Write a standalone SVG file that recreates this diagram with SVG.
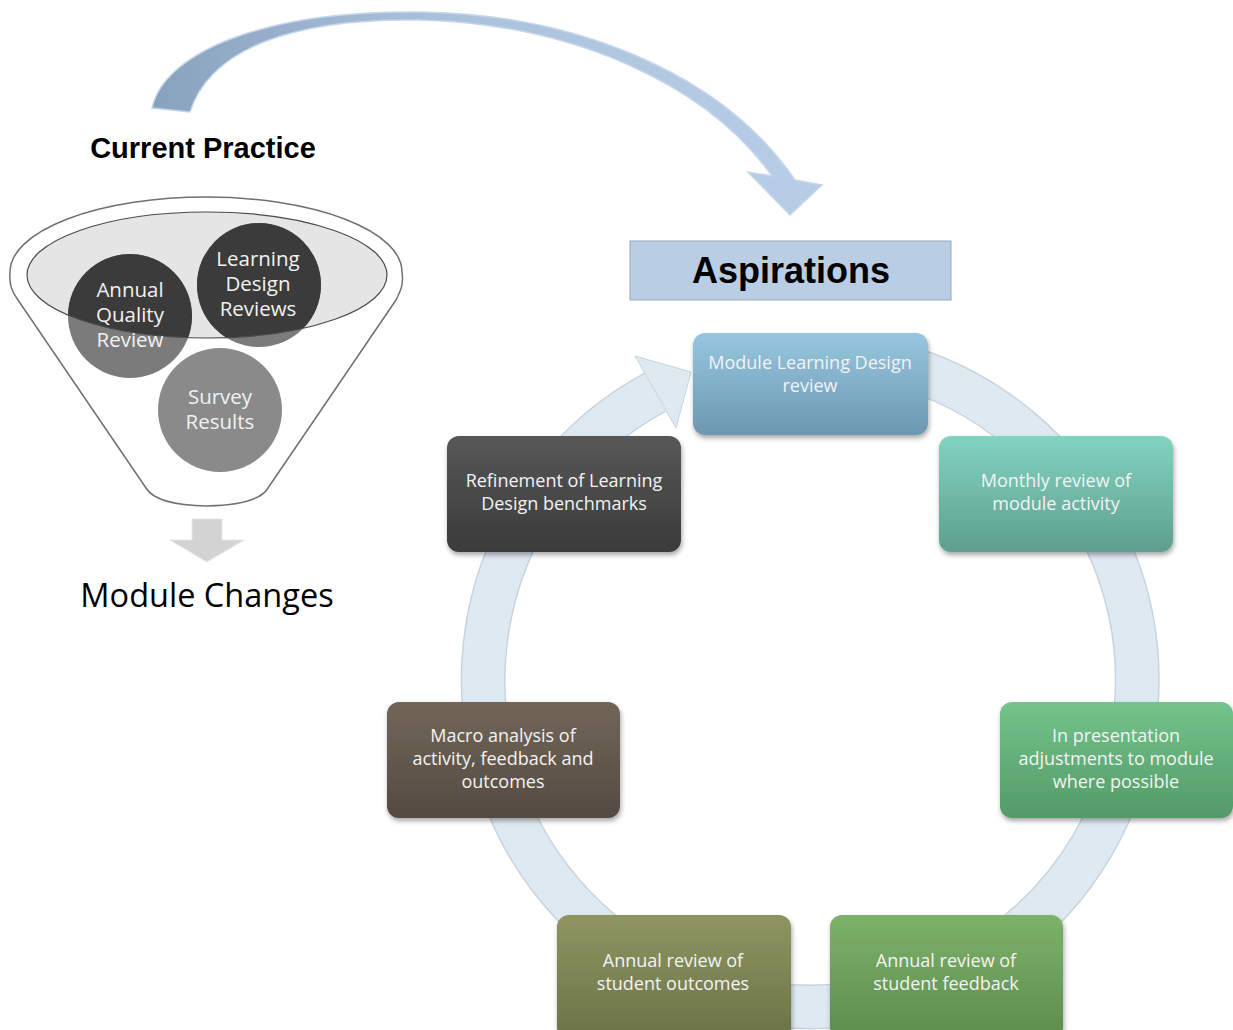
<svg xmlns="http://www.w3.org/2000/svg" width="1233" height="1030" viewBox="0 0 1233 1030">
<defs>
<style>
.bt{font-family:"Open Sans","Noto Sans",sans-serif;font-size:18px;text-anchor:middle;fill:#f3f3f3}
.ct{font-family:"Open Sans","Noto Sans",sans-serif;font-size:20.5px;text-anchor:middle;fill:#f2f2f2}
.box{filter:url(#sh)}
</style>
<filter id="sh" x="-10%" y="-10%" width="125%" height="130%">
<feDropShadow dx="1" dy="3" stdDeviation="2.5" flood-color="#000" flood-opacity="0.35"/>
</filter>
<linearGradient id="g1" x1="0" y1="0" x2="0" y2="1"><stop offset="0" stop-color="#97c7e0"/><stop offset="1" stop-color="#6d97b1"/></linearGradient>
<linearGradient id="g2" x1="0" y1="0" x2="0" y2="1"><stop offset="0" stop-color="#82d3c0"/><stop offset="1" stop-color="#5e9f8f"/></linearGradient>
<linearGradient id="g3" x1="0" y1="0" x2="0" y2="1"><stop offset="0" stop-color="#74c48c"/><stop offset="1" stop-color="#539a66"/></linearGradient>
<linearGradient id="g4" x1="0" y1="0" x2="0" y2="1"><stop offset="0" stop-color="#7db26a"/><stop offset="1" stop-color="#5c8c4e"/></linearGradient>
<linearGradient id="g5" x1="0" y1="0" x2="0" y2="1"><stop offset="0" stop-color="#8e9562"/><stop offset="1" stop-color="#6a7346"/></linearGradient>
<linearGradient id="g6" x1="0" y1="0" x2="0" y2="1"><stop offset="0" stop-color="#726659"/><stop offset="1" stop-color="#554a41"/></linearGradient>
<linearGradient id="g7" x1="0" y1="0" x2="0" y2="1"><stop offset="0" stop-color="#575757"/><stop offset="1" stop-color="#3b3b3b"/></linearGradient>
<linearGradient id="ga" x1="150" y1="0" x2="820" y2="0" gradientUnits="userSpaceOnUse"><stop offset="0" stop-color="#88a1bd"/><stop offset="0.4" stop-color="#a9c0da"/><stop offset="1" stop-color="#b8cee6"/></linearGradient>
<clipPath id="ec"><ellipse cx="207" cy="275" rx="180" ry="63"/></clipPath>
</defs>
<rect width="1233" height="1030" fill="#fff"/>

<g id="connectors">
<path id="bigArrow" d="M 152 108 C 165 50, 270 10, 420 12 C 570 14, 720 70, 795 180 L 822 185 L 790 215 L 748 172 L 772 176 C 705 82, 570 24, 420 20 C 290 18, 210 50, 190 112 Z" fill="url(#ga)" stroke="#c6d6ea" stroke-width="1.5"/>
<polygon id="downArrow" points="192,519 222,519 222,540 244,540 207,562 170,540 192,540" fill="#d3d3d3" stroke="#e6e6e6" stroke-width="1"/>
<path id="ring-edge" d="M 894.6 364.1 A 327 327 0 1 1 655 392.2" fill="none" stroke="#c7d4e0" stroke-width="45"/>
<path id="ring" d="M 894.6 364.1 A 327 327 0 1 1 655 392.2" fill="none" stroke="#dfe9f2" stroke-width="42"/>
<polygon id="ringHead" points="635,356 691,372 676,428" fill="#dfe9f2" stroke="#c7d4e0" stroke-width="1"/>
</g>

<g id="title-current">
<text x="203" y="158" font-family="Liberation Sans,Arial,sans-serif" font-weight="bold" font-size="29" text-anchor="middle" fill="#000">Current Practice</text>
</g>

<g id="funnel">
<path d="M 10 272 A 196 75 0 0 1 402 272 C 404 285, 400 292, 396 300 L 268 488 Q 258 505, 207 506 Q 156 505, 146 488 L 18 300 C 12 292, 9 285, 10 272 Z" fill="#fff" stroke="#707070" stroke-width="1.5"/>
<ellipse cx="207" cy="275" rx="180" ry="63" fill="#e5e5e5"/>
</g>
<g id="node-aqr">
<circle cx="130" cy="316" r="62" fill="#7b7b7b"/>
<circle cx="130" cy="316" r="62" fill="#3b3b3b" clip-path="url(#ec)"/>
</g>
<g id="node-ldr">
<circle cx="259" cy="285" r="62" fill="#7b7b7b"/>
<circle cx="259" cy="285" r="62" fill="#3b3b3b" clip-path="url(#ec)"/>
</g>
<g id="node-survey">
<circle cx="220" cy="410" r="62" fill="#8a8a8a"/>
</g>
<ellipse cx="207" cy="275" rx="180" ry="63" fill="none" stroke="#4a4a4a" stroke-width="1.2"/>
<g id="circle-labels">
<text class="ct" x="130" y="297">Annual</text>
<text class="ct" x="130" y="322">Quality</text>
<text class="ct" x="130" y="347">Review</text>
<text class="ct" x="258" y="266">Learning</text>
<text class="ct" x="258" y="291">Design</text>
<text class="ct" x="258" y="316">Reviews</text>
<text class="ct" x="220" y="404" fill="#ededed">Survey</text>
<text class="ct" x="220" y="429" fill="#ededed">Results</text>
</g>

<g id="module-changes">
<text x="207" y="607" font-family="Open Sans,Noto Sans,sans-serif" font-size="32.5" text-anchor="middle" fill="#000">Module Changes</text>
</g>

<g id="aspirations">
<rect x="630" y="241" width="321" height="59" fill="#b9cde5" stroke="#9aa9b8" stroke-width="1"/>
<text x="791" y="283" font-family="Liberation Sans,Arial,sans-serif" font-weight="bold" font-size="36" text-anchor="middle" fill="#000">Aspirations</text>
</g>

<g id="node-module-ld-review">
<rect class="box" x="693" y="333" width="235" height="102" rx="12" fill="url(#g1)"/>
<text class="bt" x="810" y="369" fill="#eef6fa">Module Learning Design</text>
<text class="bt" x="810" y="392" fill="#eef6fa">review</text>
</g>
<g id="node-monthly">
<rect class="box" x="939" y="436" width="234" height="116" rx="12" fill="url(#g2)"/>
<text class="bt" x="1056" y="487">Monthly review of</text>
<text class="bt" x="1056" y="510">module activity</text>
</g>
<g id="node-in-presentation">
<rect class="box" x="1000" y="702" width="233" height="116" rx="12" fill="url(#g3)"/>
<text class="bt" x="1116" y="742">In presentation</text>
<text class="bt" x="1116" y="765">adjustments to module</text>
<text class="bt" x="1116" y="788">where possible</text>
</g>
<g id="node-feedback">
<rect class="box" x="830" y="915" width="233" height="125" rx="12" fill="url(#g4)"/>
<text class="bt" x="946" y="967">Annual review of</text>
<text class="bt" x="946" y="990">student feedback</text>
</g>
<g id="node-outcomes">
<rect class="box" x="557" y="915" width="234" height="125" rx="12" fill="url(#g5)"/>
<text class="bt" x="673" y="967">Annual review of</text>
<text class="bt" x="673" y="990">student outcomes</text>
</g>
<g id="node-macro">
<rect class="box" x="387" y="702" width="233" height="116" rx="12" fill="url(#g6)"/>
<text class="bt" x="503" y="742">Macro analysis of</text>
<text class="bt" x="503" y="765">activity, feedback and</text>
<text class="bt" x="503" y="788">outcomes</text>
</g>
<g id="node-refinement">
<rect class="box" x="447" y="436" width="234" height="116" rx="12" fill="url(#g7)"/>
<text class="bt" x="564" y="487">Refinement of Learning</text>
<text class="bt" x="564" y="510">Design benchmarks</text>
</g>
</svg>
